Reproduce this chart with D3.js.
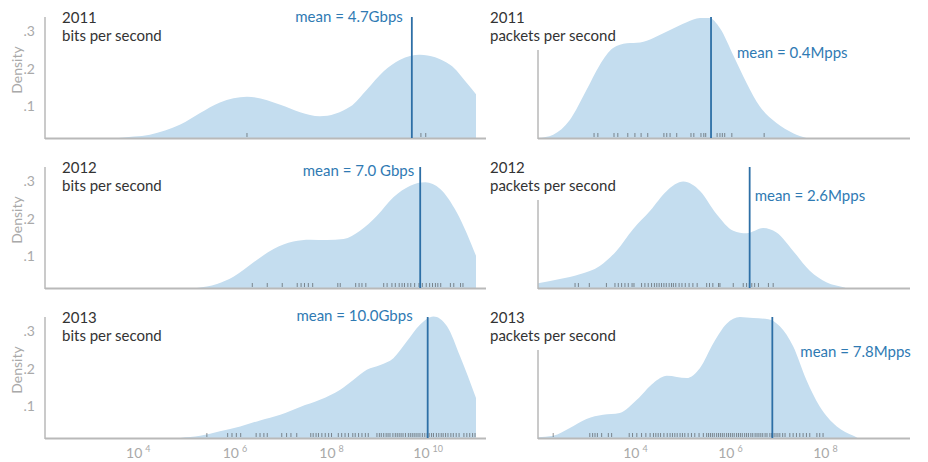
<!DOCTYPE html>
<html><head><meta charset="utf-8">
<script src="https://cdn.jsdelivr.net/npm/d3@7"></script>
<style>
html,body{margin:0;padding:0;background:#fff;}
svg{display:block;font-family:Lato,"Open Sans",sans-serif;}
</style></head><body>
<svg id="chart" width="928" height="462"></svg>
<script>
// ---------- data ----------
const years = ["2011", "2012", "2013"];
const metricTitles = ["bits per second", "packets per second"];

const bpsMeans = [4.7e9, 7.0e9, 10.0e9];
const bpsMeanLabels = ["mean = 4.7Gbps", "mean = 7.0 Gbps", "mean = 10.0Gbps"];
const ppsMeans = [0.4e6, 2.6e6, 7.8e6];
const ppsMeanLabels = ["mean = 0.4Mpps", "mean = 2.6Mpps", "mean = 7.8Mpps"];

const yTickValues = [0.1, 0.2, 0.3];
const yTickLabels = [".1", ".2", ".3"];
const yTitle = "Density";
const bpsTickExps = [4, 6, 8, 10];
const ppsTickExps = [4, 6, 8];

// density curves: [log10(value), density]
const densBps2011 = [[2.08,0],[3.2,0.005],[3.6,0.016],[4.25,0.025],[4.88,0.052],[5.29,0.083],[5.70,0.111],[6.26,0.126],[6.95,0.105],[7.36,0.085],[7.77,0.074],[8.40,0.1],[8.74,0.145],[9.09,0.194],[9.43,0.225],[9.84,0.238],[10.47,0.211],[10.81,0.163],[11.0,0.133]];
const densBps2012 = [[2.08,0],[4.5,0],[5.22,0.016],[5.64,0.027],[5.98,0.046],[6.39,0.084],[6.81,0.12],[7.22,0.14],[7.57,0.145],[7.91,0.144],[8.26,0.147],[8.60,0.169],[8.95,0.209],[9.29,0.258],[9.64,0.289],[9.95,0.298],[10.26,0.28],[10.60,0.218],[11.0,0.102]];
const densBps2013 = [[2.08,0],[4.3,0],[4.88,0.016],[5.29,0.022],[5.70,0.034],[6.12,0.047],[6.53,0.063],[6.95,0.078],[7.36,0.099],[7.77,0.118],[8.19,0.145],[8.46,0.171],[8.74,0.198],[9.02,0.211],[9.29,0.229],[9.57,0.274],[9.84,0.318],[10.12,0.34],[10.40,0.314],[10.67,0.234],[11.0,0.123]];
const densPps2011 = [[1.96,0.016],[2.28,0.025],[2.63,0.064],[2.98,0.144],[3.26,0.211],[3.54,0.256],[3.83,0.269],[4.11,0.271],[4.39,0.283],[4.74,0.304],[5.09,0.325],[5.37,0.336],[5.56,0.336],[5.79,0.309],[6.07,0.237],[6.35,0.163],[6.63,0.1],[6.98,0.056],[7.33,0.029],[7.61,0.016],[8.0,0],[9.79,0]];
const densPps2012 = [[1.96,0.029],[2.42,0.04],[2.84,0.053],[3.26,0.075],[3.61,0.115],[3.96,0.173],[4.32,0.222],[4.67,0.275],[5.02,0.3],[5.37,0.275],[5.72,0.213],[6.07,0.169],[6.35,0.162],[6.70,0.176],[6.98,0.164],[7.33,0.115],[7.68,0.062],[8.04,0.031],[8.39,0.018],[8.8,0],[9.79,0]];
const densPps2013 = [[1.96,0.018],[2.28,0.022],[2.63,0.043],[2.98,0.067],[3.33,0.078],[3.68,0.083],[4.04,0.118],[4.39,0.163],[4.67,0.182],[5.09,0.176],[5.37,0.203],[5.65,0.269],[5.93,0.321],[6.21,0.339],[6.49,0.336],[6.81,0.333],[7.05,0.314],[7.33,0.261],[7.61,0.171],[7.89,0.1],[8.25,0.047],[8.60,0.022],[9.0,0],[9.79,0]];

// rug observations: log10(value)
const rugBps2011 = [6.26, 9.86, 9.96];
const rugBps2012 = [6.37,6.68,6.99,7.30,7.38,7.45,7.53,7.62,8.14,8.19,8.51,8.58,8.64,8.72,9.09,9.16,9.26,9.33,9.41,9.47,9.52,9.59,9.65,9.73,9.82,9.89,9.97,10.04,10.10,10.16,10.21,10.27,10.47,10.54,10.68,10.73];
const rugBps2013 = [5.43,5.86,5.95,6.04,6.13,6.45,6.53,6.61,6.68,6.98,7.08,7.17,7.29,7.58,7.63,7.69,7.74,7.81,7.88,7.95,8.01,8.15,8.22,8.29,8.36,8.45,8.50,8.57,8.64,8.71,8.77,8.95,9.00,9.04,9.09,9.14,9.18,9.22,9.28,9.33,9.37,9.41,9.45,9.49,9.54,9.60,9.64,9.68,9.72,9.76,9.80,9.84,9.89,9.94,9.99,10.03,10.08,10.12,10.18,10.23,10.28,10.32,10.37,10.42,10.48,10.53,10.59,10.65,10.75,10.81,10.87,10.93,10.98];
const rugPps2011 = [3.14,3.22,3.56,3.64,3.85,4.0,4.13,4.27,4.61,4.67,4.74,4.88,5.18,5.24,5.39,5.45,5.49,5.73,5.79,5.84,5.89,6.04,6.72];
const rugPps2012 = [2.74,2.81,3.04,3.40,3.58,3.65,3.72,3.79,3.86,3.94,3.98,4.14,4.21,4.28,4.35,4.41,4.46,4.51,4.56,4.61,4.66,4.72,4.77,4.81,4.86,4.93,4.99,5.06,5.14,5.22,5.31,5.51,5.57,5.64,5.76,5.79,6.07,6.28,6.35,6.41,6.46,6.52,6.60,6.81,6.91];
const rugPps2013 = [2.28,3.05,3.11,3.16,3.21,3.30,3.44,3.51,3.88,3.95,4.04,4.14,4.23,4.32,4.39,4.44,4.49,4.54,4.61,4.68,4.74,4.79,4.84,4.89,4.95,5.00,5.05,5.12,5.19,5.26,5.35,5.44,5.51,5.55,5.59,5.63,5.67,5.72,5.76,5.80,5.84,5.88,5.93,5.97,6.01,6.05,6.09,6.14,6.18,6.22,6.26,6.31,6.35,6.39,6.44,6.48,6.53,6.57,6.61,6.65,6.69,6.74,6.78,6.84,6.88,6.93,6.97,7.01,7.05,7.11,7.16,7.26,7.33,7.40,7.47,7.54,7.61,7.68,7.83,7.89,7.96];

// ---------- layout / style ----------
const W = 928, H = 462;
const rowBase = [138, 288, 438];
const FILL = "#c4ddef", MEAN = "#2d6fa6", MEANTXT = "#2f7ab3", AXIS = "#b9b9b9", GREY = "#a9a9a9", TITLE = "#333";

const cols = [
  { x0: 45, x1: 476, axisEnd: 486, yTop: 121, titleX: 62, exp: [2.08, 11.0], ticks: bpsTickExps,
    means: bpsMeans, meanLabels: bpsMeanLabels, dens: [densBps2011, densBps2012, densBps2013],
    rugs: [rugBps2011, rugBps2012, rugBps2013], showY: true,
    lab: [{anchor:"end", dx:-9, dy:-121}, {anchor:"end", dx:-6, dy:-117}, {anchor:"end", dx:-15, dy:-122}] },
  { x0: 538, x1: 910, axisEnd: 910, yTop: 88, titleX: 490, exp: [1.96, 9.79], ticks: ppsTickExps,
    means: ppsMeans, meanLabels: ppsMeanLabels, dens: [densPps2011, densPps2012, densPps2013],
    rugs: [rugPps2011, rugPps2012, rugPps2013], showY: false,
    lab: [{anchor:"start", dx:26, dy:-85}, {anchor:"start", dx:5, dy:-92}, {anchor:"start", dx:28, dy:-86.5}] }
];

const svg = d3.select("#chart");
const defs = svg.append("defs");

cols.forEach((c, ci) => {
  const x = d3.scaleLog().domain([10 ** c.exp[0], 10 ** c.exp[1]]).range([c.x0, c.x1]);
  rowBase.forEach((B, ri) => {
    const y = d3.scaleLinear().domain([0, 0.3]).range([B + 6, B + 6 - 112.5]);
    const g = svg.append("g");
    const clipId = `clip-${ci}-${ri}`;
    defs.append("clipPath").attr("id", clipId)
      .append("rect").attr("x", c.x0).attr("y", B - 140).attr("width", c.x1 - c.x0).attr("height", 140);

    // density area
    const area = d3.area()
      .x(d => x(10 ** d[0]))
      .y0(B)
      .y1(d => y(d[1]))
      .curve(d3.curveMonotoneX);
    g.append("path").datum(c.dens[ri])
      .attr("d", area).attr("fill", FILL)
      .attr("clip-path", `url(#${clipId})`);

    // rug
    g.append("g").selectAll("line").data(c.rugs[ri]).join("line")
      .attr("x1", d => x(10 ** d)).attr("x2", d => x(10 ** d))
      .attr("y1", B - 1).attr("y2", B - 5)
      .attr("stroke", "#3a3a3a").attr("stroke-opacity", 0.55).attr("stroke-width", 1);

    // axes lines
    g.append("line").attr("x1", c.x0).attr("x2", c.axisEnd).attr("y1", B + 0.5).attr("y2", B + 0.5)
      .attr("stroke", AXIS).attr("stroke-width", 2);
    g.append("line").attr("x1", c.x0).attr("x2", c.x0).attr("y1", B - c.yTop).attr("y2", B + 1)
      .attr("stroke", AXIS).attr("stroke-width", 1.5);

    // y ticks
    if (c.showY) {
      const ya = d3.axisLeft(y).tickValues(yTickValues).tickSize(0)
        .tickFormat((d, i) => yTickLabels[i]);
      const yg = g.append("g").attr("transform", `translate(${c.x0 - 7},0)`).call(ya);
      yg.select(".domain").remove();
      yg.selectAll("text").attr("fill", GREY).style("font-size", "14px")
        .style("font-family", "Lato, 'Open Sans', sans-serif");
      g.append("text").attr("transform", `translate(22,${B - 68}) rotate(-90)`)
        .attr("text-anchor", "middle").attr("fill", GREY).style("font-size", "14px").text(yTitle);
    }

    // titles
    const t = g.append("text").attr("x", c.titleX).attr("y", B - 115).attr("fill", TITLE).style("font-size", "15px");
    t.append("tspan").attr("x", c.titleX).text(years[ri]);
    t.append("tspan").attr("x", c.titleX).attr("dy", 18).text(metricTitles[ci]);

    // mean line + label
    const mx = x(c.means[ri]);
    g.append("line").attr("x1", mx).attr("x2", mx).attr("y1", B - 121).attr("y2", B)
      .attr("stroke", MEAN).attr("stroke-width", 1.8);
    const L = c.lab[ri];
    g.append("text").attr("x", mx + L.dx).attr("y", B + L.dy).attr("dy", "0.35em")
      .attr("text-anchor", L.anchor).attr("fill", MEANTXT).style("font-size", "15px")
      .text(c.meanLabels[ri]);

    // x tick labels (bottom row only)
    if (ri === rowBase.length - 1) {
      const xa = d3.axisBottom(x).tickValues(c.ticks.map(e => 10 ** e)).tickSize(0).tickFormat("");
      const xg = g.append("g").attr("transform", `translate(0,${B})`).call(xa);
      xg.select(".domain").remove();
      xg.selectAll(".tick").append("text")
        .attr("y", 20).attr("text-anchor", "middle").attr("fill", GREY)
        .style("font-size", "14px").style("font-family", "Lato, 'Open Sans', sans-serif")
        .each(function (d) {
          const e = Math.round(Math.log10(d));
          const s = d3.select(this);
          s.append("tspan").text("10");
          s.append("tspan").attr("dx", 3).attr("dy", -6).style("font-size", "9px").text(e);
        });
    }
  });
});
</script>
</body></html>
